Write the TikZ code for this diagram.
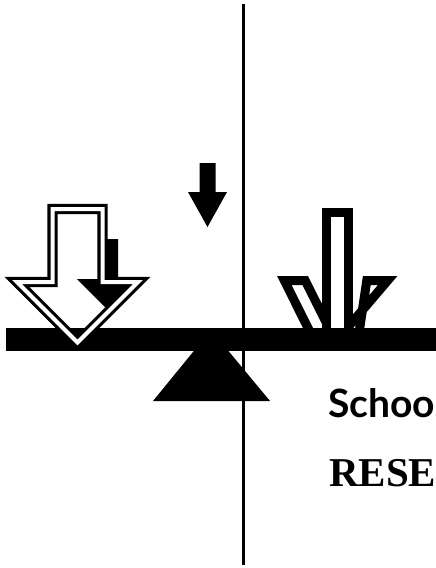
\documentclass[tikz,border=0pt]{standalone}
\usepackage{fontspec}
\usepackage{tikz}
\newfontfamily\labelsans{Lato}
\newfontfamily\labelserif{Liberation Serif}
\tikzset{
  hollow/.style={draw=black,line width=3.2pt,double=white,double distance=4pt,line join=miter},
  outline/.style={draw=black,fill=white,line width=9pt,line join=miter},
  label/.style={anchor=base west,inner sep=0pt}}
\newcommand{\farrow}[6]{%
  \fill ({#1-#2},#3) -- ({#1+#2},#3) -- ({#1+#2},#4) -- ({#1+#5},#4)
    -- (#1,#6) -- ({#1-#5},#4) -- ({#1-#2},#4) -- cycle;}
\newcommand{\fwing}[4]{%
  \draw[outline] (#1,280.5) -- (#2,280.5) -- (#4,340) -- (#3,340) -- cycle;}

\begin{document}
\begin{tikzpicture}[x=1pt,y=-1pt]
  \useasboundingbox (0,0) rectangle (436,568);
  \draw[line width=3pt] (243,4) -- (243,565);
  \farrow{207.5}{8}{163}{192}{19.5}{227}
  \farrow{109}{9}{239}{279}{32}{311}
  \fwing{284.3}{305.2}{314}{335}
  \fwing{366.8}{387.7}{358}{337}
  \draw[outline] (326.5,340) -- (326.5,212.5) -- (348.5,212.5) -- (348.5,340);
  \fill (6,328) rectangle (440,351);
  \fill (211,330) -- (270,401) -- (153,401) -- cycle;
  \draw[hollow] (52.5,209) -- (102.5,209) -- (102.5,282) -- (138,282)
    -- (77.5,342.5) -- (17,282) -- (52.5,282) -- cycle;
  \node[label,font=\labelsans\bfseries\fontsize{39}{39}\selectfont] (school) at (328,417) {Schoo};
  \node[label,font=\labelserif\bfseries\fontsize{41}{41}\selectfont] (rese) at (329,486) {RESE};
\end{tikzpicture}
\end{document}
